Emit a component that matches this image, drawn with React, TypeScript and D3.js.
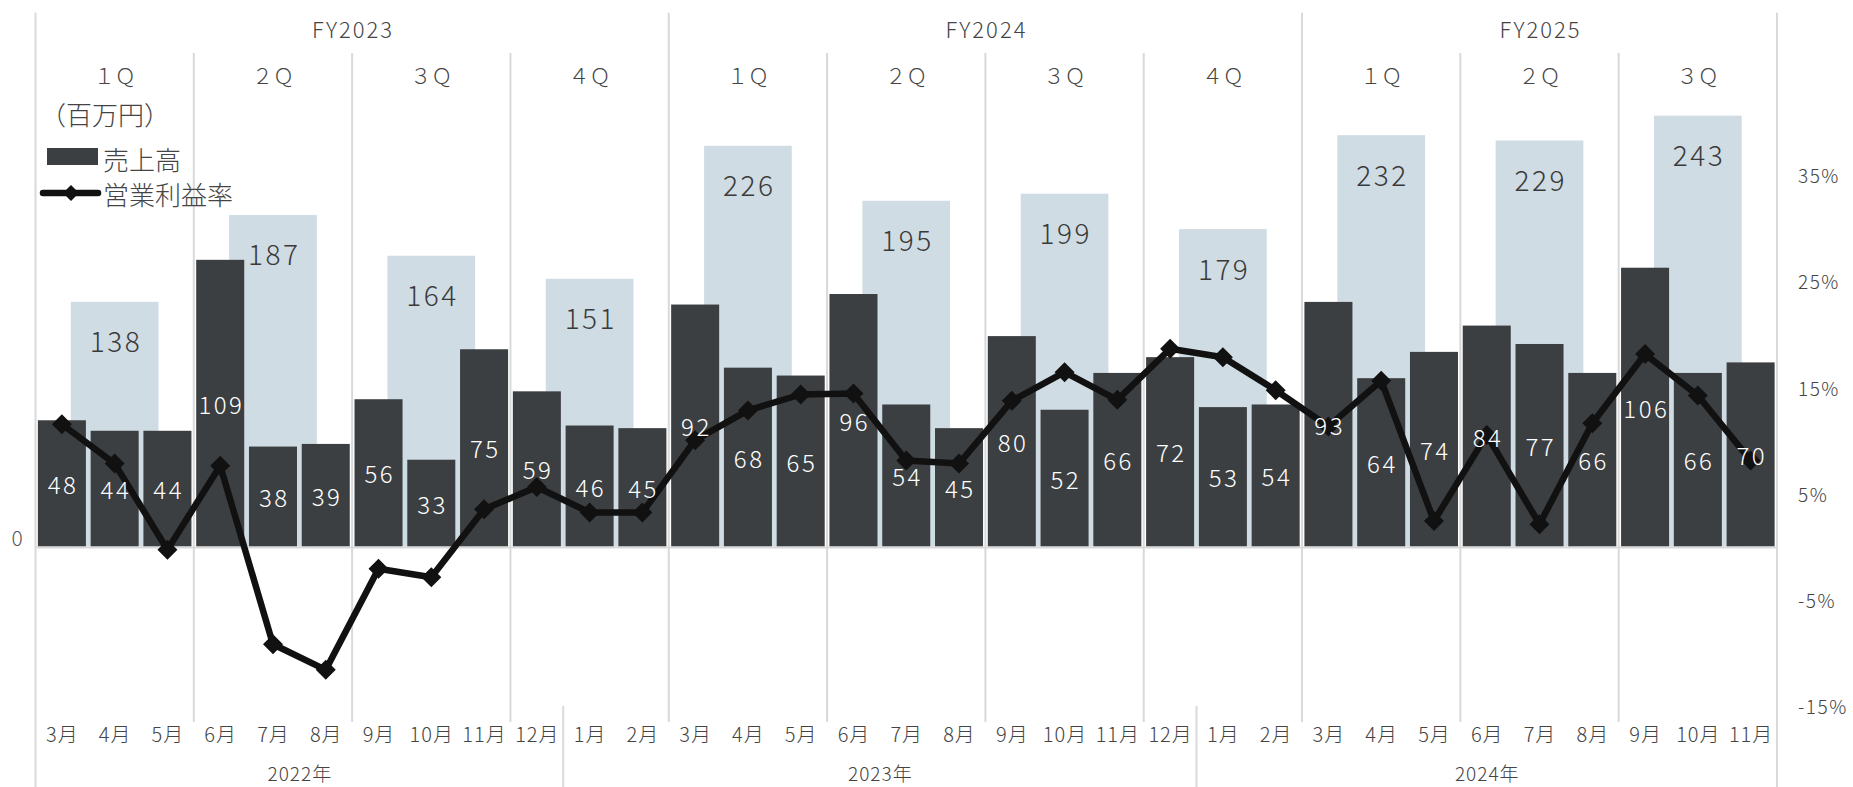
import React from "react";
import * as d3 from "d3";

// Monthly sales (百万円), March 2022 – November 2024
const monthLabels = [
  "3月", "4月", "5月", "6月", "7月", "8月", "9月", "10月", "11月", "12月",
  "1月", "2月", "3月", "4月", "5月", "6月", "7月", "8月", "9月", "10月", "11月", "12月",
  "1月", "2月", "3月", "4月", "5月", "6月", "7月", "8月", "9月", "10月", "11月",
];
const monthlySales = [
  48, 44, 44, 109, 38, 39, 56, 33, 75, 59,
  46, 45, 92, 68, 65, 96, 54, 45, 80, 52, 66, 72,
  53, 54, 93, 64, 74, 84, 77, 66, 106, 66, 70,
];
// Operating margin (%) per month
const operatingMargin = [
  11.5, 7.8, -0.3, 7.6, -9.2, -11.6, -2.1, -2.9, 3.5, 5.6,
  3.2, 3.2, 10.0, 12.8, 14.3, 14.4, 8.1, 7.8, 13.7, 16.4, 13.8, 18.6,
  17.8, 14.7, 11.3, 15.6, 2.4, 10.5, 2.1, 11.6, 18.1, 14.2, 8.1,
];

// Quarterly sales (百万円)
const quarterLabels = ["１Ｑ", "２Ｑ", "３Ｑ", "４Ｑ", "１Ｑ", "２Ｑ", "３Ｑ", "４Ｑ", "１Ｑ", "２Ｑ", "３Ｑ"];
const quarterlySales = [138, 187, 164, 151, 226, 195, 199, 179, 232, 229, 243];

const fiscalYears = ["FY2023", "FY2024", "FY2025"];
const fiscalYearQuarterCounts = [4, 4, 3];

const calendarYears = ["2022年", "2023年", "2024年"];
const calendarYearMonthCounts = [10, 12, 11];

const marginTicks = [35, 25, 15, 5, -5, -15];

const W = 1853;
const H = 787;
const LEFT = 35.5;
const RIGHT = 1777;
const ZERO = 546.5;

const FONT = "'Noto Sans CJK JP', 'Noto Sans', sans-serif";
const TEXT = "#444444";
const GRID = "#d9d9d9";
const DARK = "#3c3f42";
const LIGHT = "#d0dce3";

export default function App() {
  const months = d3.range(monthlySales.length);
  const quarters = d3.range(quarterlySales.length);

  const x = d3.scaleBand<number>().domain(months).range([LEFT, RIGHT]).paddingInner(0.09).paddingOuter(0.045);
  const xq = d3.scaleBand<number>().domain(quarters).range([LEFT, RIGHT]).paddingInner(0.446).paddingOuter(0.223);
  const step = x.step();
  const xc = (i: number) => (x(i) as number) + x.bandwidth() / 2;
  const xqc = (i: number) => (xq(i) as number) + xq.bandwidth() / 2;

  const yM = d3.scaleLinear().domain([0, 100]).range([ZERO, ZERO - 263]);
  const yQ = d3.scaleLinear().domain([0, 100]).range([ZERO, ZERO - 177.3]);
  const yP = d3.scaleLinear().domain([-15, 35]).range([ZERO + 15 * 10.63, ZERO - 35 * 10.63]);

  const marginLine = d3
    .line<number>()
    .x((_, i) => xc(i))
    .y((d) => yP(d));

  const boundary = (monthIndex: number) => LEFT + monthIndex * step;

  // fiscal-year and quarter boundaries (in months)
  const fyStartsQ = Array.from(d3.cumsum([0, ...fiscalYearQuarterCounts]));
  const fyStartQuarters = fyStartsQ.slice(0, -1);
  const totalQuarters = quarterlySales.length;
  const cyStarts = Array.from(d3.cumsum([0, ...calendarYearMonthCounts]));

  const gridLines: { x: number; y1: number; y2: number }[] = [];
  for (let q = 0; q <= totalQuarters; q++) {
    const xb = boundary(q * 3);
    if (q === 0 || q === totalQuarters) gridLines.push({ x: xb, y1: 12.7, y2: H });
    else if (fyStartQuarters.includes(q)) gridLines.push({ x: xb, y1: 12.7, y2: 722 });
    else gridLines.push({ x: xb, y1: 53, y2: 722 });
  }
  cyStarts.slice(1, -1).forEach((m) => gridLines.push({ x: boundary(m), y1: 706, y2: H }));

  const diamond = (cx: number, cy: number, r: number) =>
    `M${cx},${cy - r}L${cx + r},${cy}L${cx},${cy + r}L${cx - r},${cy}Z`;

  return (
    <svg
      width={W}
      height={H}
      viewBox={`0 0 ${W} ${H}`}
      style={{ position: "absolute", left: 0, top: 0, display: "block", background: "#fff" }}
      fontFamily={FONT}
    >
      {/* vertical separators */}
      {gridLines.map((g, i) => (
        <line key={`g${i}`} x1={g.x} x2={g.x} y1={g.y1} y2={g.y2} stroke={GRID} strokeWidth={2} />
      ))}

      {/* quarterly sales bars */}
      {quarterlySales.map((v, i) => (
        <rect key={`q${i}`} x={xq(i)} y={yQ(v)} width={xq.bandwidth()} height={ZERO - yQ(v)} fill={LIGHT} />
      ))}

      {/* monthly sales bars */}
      {monthlySales.map((v, i) => (
        <rect key={`m${i}`} x={x(i)} y={yM(v)} width={x.bandwidth()} height={ZERO - yM(v)} fill={DARK} />
      ))}

      {/* horizontal axis line */}
      <line x1={LEFT} x2={RIGHT} y1={ZERO + 1} y2={ZERO + 1} stroke={GRID} strokeWidth={2} />

      {/* operating margin line */}
      <path d={marginLine(operatingMargin) ?? ""} fill="none" stroke="#111" strokeWidth={6.5} strokeLinejoin="round" />
      {operatingMargin.map((v, i) => (
        <path key={`d${i}`} d={diamond(xc(i), yP(v), 10)} fill="#111" />
      ))}

      {/* quarterly labels */}
      {quarterlySales.map((v, i) => (
        <text
          key={`ql${i}`}
          x={xqc(i)}
          y={yQ(v) + 38.5}
          textAnchor="middle"
          dominantBaseline="central"
          fontSize={28}
          fontWeight={300}
          letterSpacing={2.5}
          dx={1.25}
          fill="#3a3a3a"
        >
          {v}
        </text>
      ))}

      {/* monthly labels */}
      {monthlySales.map((v, i) => (
        <text
          key={`ml${i}`}
          x={xc(i)}
          y={(yM(v) + ZERO) / 2}
          textAnchor="middle"
          dominantBaseline="central"
          fontSize={24}
          fontWeight={300}
          letterSpacing={2.5}
          dx={1.25}
          fill="#ffffff"
        >
          {v}
        </text>
      ))}

      {/* fiscal year header */}
      {fiscalYears.map((fy, i) => {
        const q0 = fyStartsQ[i];
        const q1 = fyStartsQ[i + 1];
        return (
          <text
            key={`fy${i}`}
            x={(boundary(q0 * 3) + boundary(q1 * 3)) / 2}
            y={28}
            textAnchor="middle"
            dominantBaseline="central"
            fontSize={22}
            fontWeight={300}
            letterSpacing={2}
            dx={1}
            fill={TEXT}
          >
            {fy}
          </text>
        );
      })}
      {quarterLabels.map((q, i) => (
        <text
          key={`qh${i}`}
          x={(boundary(i * 3) + boundary(i * 3 + 3)) / 2}
          y={74.5}
          textAnchor="middle"
          dominantBaseline="central"
          fontSize={21}
          fontWeight={300}
          fill={TEXT}
        >
          {q}
        </text>
      ))}

      {/* month axis */}
      {monthLabels.map((m, i) => (
        <text
          key={`mx${i}`}
          x={xc(i)}
          y={733}
          textAnchor="middle"
          dominantBaseline="central"
          fontSize={20}
          fontWeight={300}
          letterSpacing={1}
          dx={0.5}
          fill={TEXT}
        >
          {m}
        </text>
      ))}
      {calendarYears.map((cy, i) => (
        <text
          key={`cy${i}`}
          x={(boundary(cyStarts[i]) + boundary(cyStarts[i + 1])) / 2}
          y={772}
          textAnchor="middle"
          dominantBaseline="central"
          fontSize={19}
          fontWeight={300}
          letterSpacing={1}
          dx={0.5}
          fill={TEXT}
        >
          {cy}
        </text>
      ))}

      {/* left axis zero label */}
      <text x={17} y={537} textAnchor="middle" dominantBaseline="central" fontSize={21} fontWeight={300} fill="#595959">
        0
      </text>

      {/* right axis: operating margin ticks */}
      {marginTicks.map((t) => (
        <text
          key={`pt${t}`}
          x={1798}
          y={yP(t)}
          dominantBaseline="central"
          fontSize={19}
          fontWeight={300}
          letterSpacing={1.5}
          fill={TEXT}
        >
          {`${t}%`}
        </text>
      ))}

      {/* legend */}
      <text x={40} y={113} dominantBaseline="central" fontSize={26} fontWeight={300} fill={TEXT}>
        （百万円）
      </text>
      <rect x={47} y={148} width={51} height={17} fill={DARK} />
      <text x={103} y={158.5} dominantBaseline="central" fontSize={26} fontWeight={300} fill={TEXT}>
        売上高
      </text>
      <line x1={43} x2={98} y1={193} y2={193} stroke="#111" strokeWidth={6.5} strokeLinecap="round" />
      <path d={diamond(71, 193, 8)} fill="#111" />
      <text x={103} y={193.5} dominantBaseline="central" fontSize={26} fontWeight={300} fill={TEXT}>
        営業利益率
      </text>
    </svg>
  );
}
